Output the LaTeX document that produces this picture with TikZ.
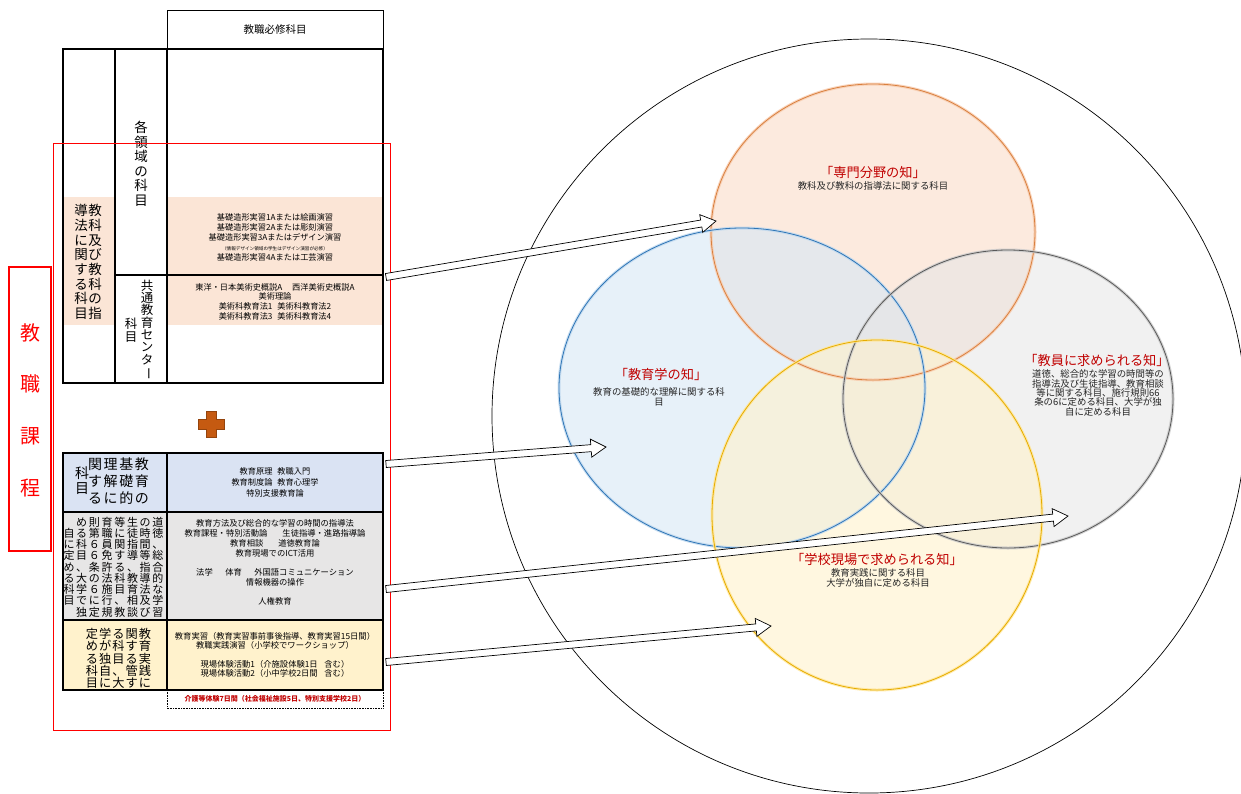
\documentclass[tikz,border=0pt]{standalone}
\usepackage{fontspec}
\setmainfont{Noto Sans CJK JP}
\usetikzlibrary{calc}
\definecolor{pinkf}{HTML}{FBE5D6}
\definecolor{bluef}{HTML}{DAE3F3}
\definecolor{greyf}{HTML}{E7E6E6}
\definecolor{yelf}{HTML}{FFF2CC}
\definecolor{dred}{HTML}{C00000}
\definecolor{plusc}{HTML}{C55A11}
\definecolor{orgline}{HTML}{D9803F}
\definecolor{orgglow}{HTML}{F8CBAD}
\definecolor{blueline}{HTML}{2E75B6}
\definecolor{blueglow}{HTML}{BDD7EE}
\definecolor{greyline}{HTML}{595959}
\definecolor{greyglow}{HTML}{C9C9C9}
\definecolor{yelline}{HTML}{E6AC00}
\definecolor{yelglow}{HTML}{FFE699}
\newcommand\fs[2]{\fontsize{#1}{#2}\selectfont\lineskiplimit=-30pt\lineskip=0pt}
\makeatletter
\newcommand\gridrow[2]{\@tfor\gr@c:=#2\do{\makebox[#1]{\gr@c}}}
\makeatother
\newcommand\hollowarr[2]{%
  \coordinate (hb) at ($(#2)!15pt!(#1)$);
  \draw[hollow] ($(#1)!3.5pt!90:(#2)$) -- ($(hb)!3.5pt!90:(#2)$) -- ($(hb)!9pt!90:(#2)$) -- (#2)
     -- ($(hb)!9pt!-90:(#2)$) -- ($(hb)!3.5pt!-90:(#2)$) -- ($(#1)!3.5pt!-90:(#2)$) -- cycle;}
\begin{document}
\begin{tikzpicture}[x=1pt,y=-1pt,
  tb/.style={line width=2pt},
  txt/.style={inner sep=0pt, align=center, font=\fs{8.3}{10}},
  vtxt/.style={inner sep=0pt, align=center},
  hollow/.style={draw=black, line width=0.7pt, fill=white, line join=miter},
  ttl/.style={inner sep=0pt, align=center, text=dred, font=\fs{13.2}{15}},
  sub/.style={inner sep=0pt, align=center, text=black!85, font=\fs{9.4}{9.4}},
]
\useasboundingbox (0,0) rectangle (1241,793);

% ---------- Venn area ----------
\draw[line width=0.7pt] (869,416) circle[radius=377pt];
\fill[pinkf, fill opacity=0.8] (873,232) ellipse[x radius=162pt, y radius=148pt];
\fill[blueglow!60, fill opacity=0.6] (742,388) ellipse[x radius=183pt, y radius=160pt];
\fill[black!10, fill opacity=0.55] (1008,399) ellipse[x radius=165pt, y radius=149pt];
\fill[yelf, fill opacity=0.6] (877,515) ellipse[x radius=165pt, y radius=175pt];
\draw[orgglow, line width=3pt, opacity=0.8] (873,232) ellipse[x radius=162pt, y radius=148pt];
\draw[orgline, line width=0.8pt] (873,232) ellipse[x radius=162pt, y radius=148pt];
\draw[blueglow, line width=3pt, opacity=0.8] (742,388) ellipse[x radius=183pt, y radius=160pt];
\draw[blueline, line width=0.8pt] (742,388) ellipse[x radius=183pt, y radius=160pt];
\draw[greyglow, line width=3pt, opacity=0.8] (1008,399) ellipse[x radius=165pt, y radius=149pt];
\draw[greyline, line width=0.8pt] (1008,399) ellipse[x radius=165pt, y radius=149pt];
\draw[yelglow, line width=3pt, opacity=0.8] (877,515) ellipse[x radius=165pt, y radius=175pt];
\draw[yelline, line width=0.8pt] (877,515) ellipse[x radius=165pt, y radius=175pt];

\node[ttl] (t1) at (873,172) {「専門分野の知」};
\node[sub] (s1) at (873,186) {教科及び教科の指導法に関する科目};
\node[ttl] (t2) at (661,374) {「教育学の知」};
\node[sub, font=\fs{9.4}{10}] (s2) at (659,397) {教育の基礎的な理解に関する科\\目};
\node[ttl] (t3) at (1097,360) {「教員に求められる知」};
\node[sub, font=\fs{9.4}{9.3}] (s3) at (1098,393) {道徳、総合的な学習の時間等の\\指導法及び生徒指導、教育相談\\等に関する科目、施行規則66\\条の6に定める科目、大学が独\\自に定める科目};
\node[ttl] (t4) at (877,559) {「学校現場で求められる知」};
\node[sub, font=\fs{9.4}{10}] (s4) at (878,578) {教育実践に関する科目\\大学が独自に定める科目};

% ---------- top table ----------
\fill[pinkf] (63,197) rectangle (115,325);
\fill[pinkf] (167,197) rectangle (383,325);
\draw[line width=0.7pt] (167,49) -- (167,10) -- (383,10) -- (383,49);
\draw[tb] (63,49) rectangle (383,383);
\draw[tb] (115,49) -- (115,383);
\draw[tb] (167,49) -- (167,383);
\draw[tb] (115,275) -- (383,275);
\node[txt, font=\fs{10.5}{12}] (hdr) at (275,30) {教職必修科目};
\node[vtxt, font=\fs{13.5}{14.7}] (kyoka) at (88,262) {\gridrow{14pt}{導教}\\\gridrow{14pt}{法科}\\\gridrow{14pt}{に及}\\\gridrow{14pt}{関び}\\\gridrow{14pt}{す教}\\\gridrow{14pt}{る科}\\\gridrow{14pt}{科の}\\\gridrow{14pt}{目指}};
\node[vtxt, font=\fs{13.5}{14.5}] (ryoiki) at (141,164) {各\\領\\域\\の\\科\\目};
\node[vtxt, font=\fs{12.5}{12.3}] (kyotsu) at (147,330) {共\\通\\教\\育\\セ\\ン\\タ\\\rotatebox[origin=c]{-90}{ー}};
\node[vtxt, font=\fs{12.5}{13.5}] (kyotsu2) at (131,330) {科\\目};
\node[txt, font=\fs{8.2}{10}] (p1) at (275,237) {基礎造形実習1Aまたは絵画演習\\基礎造形実習2Aまたは彫刻演習\\基礎造形実習3Aまたはデザイン演習\\{\fs{4.6}{5}（情報デザイン領域の学生はデザイン演習が必修）}\\基礎造形実習4Aまたは工芸演習};
\node[txt, font=\fs{8.2}{9.7}] (p2) at (275,301.5) {東洋・日本美術史概説A\hspace{1.2em}西洋美術史概説A\\美術理論\\美術科教育法1\hspace{0.6em}美術科教育法2\\美術科教育法3\hspace{0.6em}美術科教育法4};

% plus sign
\filldraw[fill=plusc, draw=plusc!75!black, line width=0.5pt] (206,411) -- (216,411) -- (216,419) -- (224,419) -- (224,429) -- (216,429) -- (216,437) -- (206,437) -- (206,429) -- (198,429) -- (198,419) -- (206,419) -- cycle;

% ---------- lower table ----------
\fill[bluef] (63,453) rectangle (383,512);
\fill[greyf] (63,512) rectangle (383,620);
\fill[yelf] (63,620) rectangle (383,690);
\draw[tb] (63,453) rectangle (383,690);
\draw[tb] (167,453) -- (167,690);
\draw[tb] (63,512) -- (383,512);
\draw[tb] (63,620) -- (383,620);
\draw[densely dotted, line width=0.6pt] (167,690) -- (167,708) -- (383,708) -- (383,690);

\node[vtxt, font=\fs{14}{17}] (kiso) at (118.5,481) {\gridrow{15.6pt}{関理基教}\\\gridrow{15.6pt}{す解礎育}\\\gridrow{15.6pt}{るに的の}};
\node[vtxt, font=\fs{14}{15}] (kiso2) at (82,480.5) {科\\目};
\node[vtxt, font=\fs{11}{11.25}] (dotoku) at (113.5,567) {%
\gridrow{12.7pt}{　め則育等生の道}\\
\gridrow{12.7pt}{自る第職に徒時徳}\\
\gridrow{12.7pt}{に科６員関指間、}\\
\gridrow{12.7pt}{定目６免す導等総}\\
\gridrow{12.7pt}{め、条許る、指合}\\
\gridrow{12.7pt}{る大の法科教導的}\\
\gridrow{12.7pt}{科学６施目育法な}\\
\gridrow{12.7pt}{目でに行、相及学}\\
\gridrow{12.7pt}{　独定規教談び習}};
\node[vtxt, font=\fs{12.2}{12.3}] (jissen) at (118.5,658.5) {%
\gridrow{13.25pt}{定学る関教}\\
\gridrow{13.25pt}{めが科す育}\\
\gridrow{13.25pt}{る独目る実}\\
\gridrow{13.25pt}{科自、管践}\\
\gridrow{13.25pt}{目に大すに}};

\node[txt, font=\fs{8.2}{11}] (b1) at (275,482) {教育原理\hspace{0.6em}教職入門\\教育制度論\hspace{0.6em}教育心理学\\特別支援教育論};
\node[txt, font=\fs{8.3}{10}] (g1) at (275,562) {教育方法及び総合的な学習の時間の指導法\\教育課程・特別活動論\hspace{1.8em}生徒指導・進路指導論\\教育相談\hspace{1.8em}道徳教育論\\教育現場でのICT活用\\[9pt]法学\hspace{1.5em}体育\hspace{1.5em}外国語コミュニケーション\\情報機器の操作\\[9pt]人権教育};
\node[txt, font=\fs{8.3}{9.5}] (y1) at (275,655) {教育実習（教育実習事前事後指導、教育実習15日間）\\教職実践演習（小学校でワークショップ）\\[9pt]現場体験活動1（介施設体験1日\hspace{0.8em}含む）\\現場体験活動2（小中学校2日間\hspace{0.8em}含む）};
\node[txt, font=\bfseries\fs{7}{8}, text=dred] (kaigo) at (275,699) {介護等体験7日間（社会福祉施設5日、特別支援学校2日）};

% ---------- red frames ----------
\draw[red, line width=0.8pt] (53,143) rectangle (390,730);
\draw[red, line width=1.3pt] (9,267) rectangle (51,551);
\node[vtxt, text=red, font=\fs{20}{51.7}] (kyoshoku) at (30,410) {教\\職\\課\\程};

% ---------- arrows ----------
\coordinate (a1s) at (386,277);
\coordinate (a1e) at (716,221);
\coordinate (a2s) at (386,464);
\coordinate (a2e) at (606,447);
\coordinate (a3s) at (386,589);
\coordinate (a3e) at (1068,516);
\coordinate (a4s) at (386,662);
\coordinate (a4e) at (771,626);
\hollowarr{a1s}{a1e}
\hollowarr{a2s}{a2e}
\hollowarr{a3s}{a3e}
\hollowarr{a4s}{a4e}
\end{tikzpicture}
\end{document}
